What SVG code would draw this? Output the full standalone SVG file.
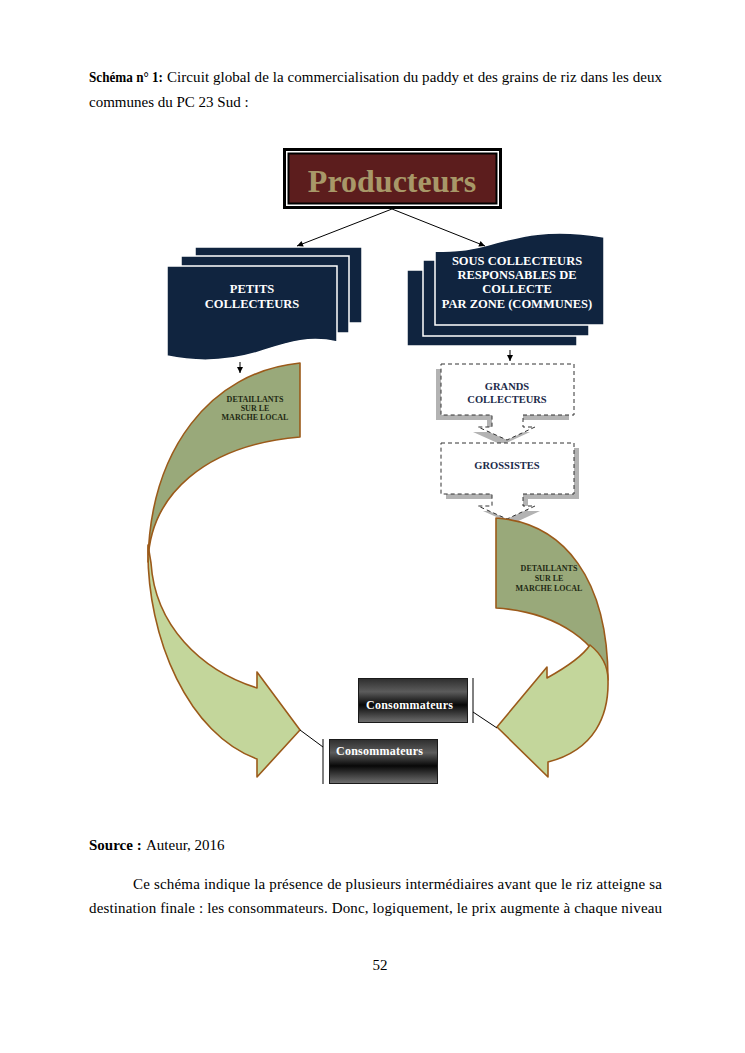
<svg xmlns="http://www.w3.org/2000/svg" width="745" height="1053" viewBox="0 0 745 1053">
<style>
.body{font-family:"Liberation Serif","Times New Roman",serif;font-size:15px;fill:#000}
.b{font-weight:bold}
.navy{fill:#10243f;stroke:#fff;stroke-width:1.5}
.wt{font-family:"Liberation Serif",serif;font-weight:bold;font-size:12.5px;fill:#fff;text-anchor:middle}
.dt{font-family:"Liberation Serif",serif;font-weight:bold;font-size:8px;fill:#1f2a14;text-anchor:middle}
.gt{font-family:"Liberation Serif",serif;font-weight:bold;font-size:10.5px;fill:#1c2b4a;text-anchor:middle}
.ct{font-family:"Liberation Serif",serif;font-weight:bold;font-size:12px;fill:#fff}
.dark{fill:#99a97a;stroke:#9b5a1a;stroke-width:1.6;stroke-linejoin:round}
.light{fill:#c3d69b;stroke:#9b5a1a;stroke-width:1.6;stroke-linejoin:round}
.call{fill:#fff;stroke:#333;stroke-width:1;stroke-dasharray:4 3}
.shadow{fill:#b3b3b3}
.conn{stroke:#000;stroke-width:1;fill:none}
.cons{fill:url(#cg);stroke:#1a1a1a;stroke-width:1}
</style>
<defs>
<marker id="ah" viewBox="0 0 10 10" refX="10" refY="5" markerWidth="7" markerHeight="6" markerUnits="userSpaceOnUse" orient="auto">
<path d="M0,0 L10,5 L0,10 Z" fill="#000"/>
</marker>
<linearGradient id="cg" x1="0" y1="0" x2="0" y2="1">
<stop offset="0" stop-color="#2e2e2e"/>
<stop offset="0.3" stop-color="#5c5c5c"/>
<stop offset="0.6" stop-color="#080808"/>
<stop offset="1" stop-color="#707070"/>
</linearGradient>
<path id="callout" d="M0,0 H133 V51 H82 V63 H94 L66,76 L37,63 H51 V51 H0 Z"/>
</defs>
<rect width="745" height="1053" fill="#fff"/>

<text class="body b" x="89" y="82" textLength="74" lengthAdjust="spacingAndGlyphs">Schéma n° 1:</text>
<text class="body" x="167" y="82" textLength="495" lengthAdjust="spacing">Circuit global de la commercialisation du paddy et des grains de riz dans les deux</text>
<text class="body" x="89" y="107">communes du PC 23 Sud :</text>

<g id="producteurs">
<rect x="284.5" y="149.5" width="216" height="58" fill="#fff" stroke="#000" stroke-width="3"/>
<rect x="288.5" y="153.5" width="208" height="50" fill="#5c1d1d" stroke="#000" stroke-width="2"/>
<text x="392" y="192" font-family="Liberation Serif, serif" font-weight="bold" font-size="32" fill="#a89868" text-anchor="middle">Producteurs</text>
</g>

<g id="petits-collecteurs">
<rect class="navy" x="195" y="247" width="167" height="76"/>
<rect class="navy" x="181" y="256" width="168" height="77"/>
<path class="navy" d="M167,266 H337 V342 C310,336 290,342 265,350 C230,362 195,362 167,356 Z"/>
<text class="wt" x="252" y="293">PETITS</text>
<text class="wt" x="252" y="308">COLLECTEURS</text>
</g>

<g id="sous-collecteurs">
<rect class="navy" x="407" y="270" width="170" height="76"/>
<rect class="navy" x="423" y="260" width="166" height="76"/>
<path class="navy" d="M435,251 C455,252 470,250 488,245 C520,236 550,228 604,237 V325 H435 Z"/>
<text class="wt" x="517" y="265">SOUS COLLECTEURS</text>
<text class="wt" x="517" y="279">RESPONSABLES DE</text>
<text class="wt" x="517" y="293">COLLECTE</text>
<text class="wt" x="517" y="308">PAR ZONE (COMMUNES)</text>
</g>

<g id="grands-collecteurs">
<use href="#callout" class="shadow" transform="translate(436,369)"/>
<use href="#callout" class="call" transform="translate(441,364)"/>
<text class="gt" x="507" y="390">GRANDS</text>
<text class="gt" x="507" y="403">COLLECTEURS</text>
</g>

<g id="grossistes">
<use href="#callout" class="shadow" transform="translate(446,448)"/>
<use href="#callout" class="call" transform="translate(441,443)"/>
<text class="gt" x="507" y="469">GROSSISTES</text>
</g>

<g id="detaillants-gauche">
<path class="dark" d="M300,363 V437 C205,445 150,495 148,562 C150,450 210,372 300,363 Z"/>
<path class="light" d="M148,545 C146,640 190,735 257,759 V777 L300,730 L257,672 V688 C200,670 155,625 151,563 Z"/>
<text class="dt" x="255" y="402">DETAILLANTS</text>
<text class="dt" x="255" y="411">SUR LE</text>
<text class="dt" x="255" y="420">MARCHE LOCAL</text>
</g>

<g id="detaillants-droite">
<path class="dark" d="M496,518 C565,523 608,580 608,680 C600,645 560,612 496,608 Z"/>
<path class="light" d="M590,645 C600,653 608,665 608,680 C609,715 595,750 548,762 V777 L497,727 L547,667 V678 C565,668 582,657 590,645 Z"/>
<text class="dt" x="549" y="571">DETAILLANTS</text>
<text class="dt" x="549" y="581">SUR LE</text>
<text class="dt" x="549" y="591">MARCHE LOCAL</text>
</g>

<g id="consommateurs-1">
<rect class="cons" x="358.5" y="678.5" width="109" height="44"/>
<line x1="473" y1="678" x2="473" y2="723" stroke="#000" stroke-width="1"/>
<text class="ct" x="366" y="709" textLength="87" lengthAdjust="spacing">Consommateurs</text>
</g>

<g id="consommateurs-2">
<rect class="cons" x="329.5" y="739.5" width="108" height="44"/>
<line x1="323" y1="739" x2="323" y2="784" stroke="#000" stroke-width="1"/>
<text class="ct" x="336" y="755" textLength="87" lengthAdjust="spacing">Consommateurs</text>
</g>

<g id="connectors">
<line class="conn" x1="392" y1="209" x2="297" y2="246" marker-end="url(#ah)"/>
<line class="conn" x1="392" y1="209" x2="485" y2="246" marker-end="url(#ah)"/>
<line class="conn" x1="240" y1="362" x2="240" y2="373" marker-end="url(#ah)"/>
<line class="conn" x1="510" y1="350" x2="510" y2="361" marker-end="url(#ah)"/>
<line class="conn" x1="473" y1="712" x2="497" y2="728"/>
<line class="conn" x1="300" y1="730" x2="323" y2="747"/>
</g>

<text class="body b" x="89" y="850">Source :</text>
<text class="body" x="146" y="850">Auteur, 2016</text>
<text class="body" x="133" y="889" textLength="529" lengthAdjust="spacing">Ce schéma indique la présence de plusieurs intermédiaires avant que le riz atteigne sa</text>
<text class="body" x="89" y="913" textLength="573" lengthAdjust="spacing">destination finale : les consommateurs. Donc, logiquement, le prix augmente à chaque niveau</text>
<text class="body" x="380" y="970" text-anchor="middle">52</text>
</svg>
